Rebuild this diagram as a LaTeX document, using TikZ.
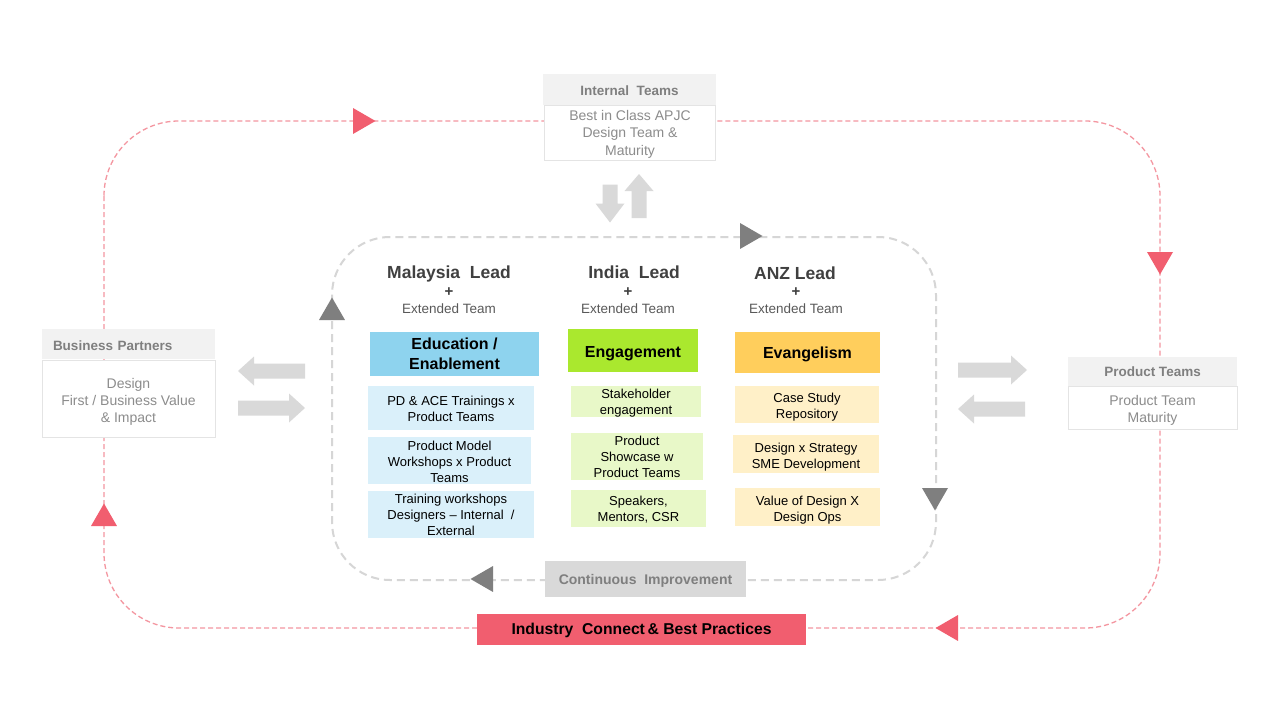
\documentclass[tikz,border=0pt]{standalone}
\usepackage{fontspec}
\setmainfont{Liberation Sans}
\usetikzlibrary{shapes.geometric}
\definecolor{pinkline}{RGB}{244,150,160}
\definecolor{pinkfill}{RGB}{241,94,111}
\definecolor{loopgray}{RGB}{214,214,214}
\definecolor{trigray}{RGB}{127,127,127}
\definecolor{hdrfill}{RGB}{242,242,242}
\definecolor{hdrtext}{RGB}{127,127,127}
\definecolor{bodytext}{RGB}{140,140,140}
\definecolor{boxborder}{RGB}{228,228,228}
\definecolor{fatgray}{RGB}{217,217,217}
\definecolor{leadtext}{RGB}{64,64,64}
\definecolor{exttext}{RGB}{89,89,89}
\definecolor{blueM}{RGB}{142,211,238}
\definecolor{blueL}{RGB}{218,240,250}
\definecolor{greenM}{RGB}{170,232,46}
\definecolor{greenL}{RGB}{232,248,200}
\definecolor{yellowM}{RGB}{255,206,92}
\definecolor{yellowL}{RGB}{255,240,200}
\definecolor{cigray}{RGB}{217,217,217}
% lower the text inside its box without changing the box
\newcommand{\lowtext}[2][2pt]{\raisebox{-#1}[\height][\depth]{\begin{tabular}{@{}c@{}}#2\end{tabular}}}
\tikzset{
  outerloop/.style={draw=pinkline, line width=1.3pt, dash pattern=on 5pt off 3pt, rounded corners=75pt},
  innerloop/.style={draw=loopgray, line width=2pt, dash pattern=on 8pt off 5pt, rounded corners=58pt},
  tri/.style={regular polygon, regular polygon sides=3, minimum size=30pt, inner sep=0pt},
  pinktri/.style={tri, fill=pinkfill},
  graytri/.style={tri, fill=trigray},
  hdr/.style={rectangle, fill=hdrfill, inner sep=0pt, text=hdrtext, font=\fontsize{13.5}{16}\selectfont\bfseries},
  sidebody/.style={rectangle, fill=white, draw=boxborder, line width=1pt, inner sep=0pt, text=bodytext, font=\fontsize{14}{17.2}\selectfont},
  mainbox/.style={rectangle, inner sep=0pt, text=black, font=\fontsize{16}{19.5}\selectfont\bfseries},
  subbox/.style={rectangle, inner sep=0pt, text=black, font=\fontsize{13}{15.8}\selectfont},
  leadtitle/.style={text=leadtext, inner sep=0pt, font=\fontsize{17.5}{20}\selectfont\bfseries},
  plussign/.style={text=leadtext, inner sep=0pt, font=\fontsize{15}{18}\selectfont\bfseries},
  exttitle/.style={text=exttext, inner sep=0pt, font=\fontsize{13.5}{16}\selectfont},
  pics/fatarrow/.style 2 args={code={
    \fill[fatgray] (-#1/2,-7.5) -- ({#1/2-#2},-7.5) -- ({#1/2-#2},-14.5) -- (#1/2,0)
      -- ({#1/2-#2},14.5) -- ({#1/2-#2},7.5) -- (-#1/2,7.5) -- cycle;}}
}
\begin{document}
\begin{tikzpicture}[x=1pt,y=-1pt]
\useasboundingbox (0,0) rectangle (1280,720);
\fill[white] (0,0) rectangle (1280,720);

% outer loop
\coordinate (oTL) at (104,121);
\coordinate (oBR) at (1160,628);
\draw[outerloop] (oTL) rectangle (oBR);

% inner loop
\coordinate (iTL) at (332,237);
\coordinate (iBR) at (936,580);
\draw[innerloop] (iTL) rectangle (iBR);

% pink direction triangles
\node[pinktri, shape border rotate=-90] (ptR) at (360.5,121) {};
\node[pinktri, shape border rotate=180] (ptD) at (1160,259.5) {};
\node[pinktri, shape border rotate=90] (ptL) at (950.5,628) {};
\node[pinktri] (ptU) at (104,518.5) {};

% gray direction triangles
\node[graytri, shape border rotate=-90] (gtR) at (747.5,236) {};
\node[graytri, shape border rotate=180] (gtD) at (935,495.5) {};
\node[graytri, shape border rotate=90] (gtL) at (485.5,579) {};
\node[graytri] (gtU) at (332,312.5) {};

% Internal Teams
\node[hdr, minimum width=173pt, minimum height=31pt] (intH) at (629.5,89.5) {\lowtext[3pt]{Internal\ \ Teams}};
\node[sidebody, minimum width=171pt, minimum height=55pt] (intB) at (630,132.5) {\lowtext{Best in Class APJC\\Design Team \&\\Maturity}};

% Business Partners
\node[hdr, minimum width=173pt, minimum height=30pt, text width=151pt, align=left, inner xsep=11pt] (bpH) at (128.5,344) {\raisebox{-1.5pt}[\height][\depth]{Business Partners}};
\node[sidebody, minimum width=173pt, minimum height=77pt] (bpB) at (128.5,398.5) {\lowtext[3.5pt]{Design\\First / Business Value\\\& Impact}};

% Product Teams
\node[hdr, minimum width=169pt, minimum height=29pt] (ptH) at (1152.5,371.5) {\lowtext[2pt]{Product Teams}};
\node[sidebody, minimum width=169pt, minimum height=43pt] (ptB) at (1152.5,407.5) {\lowtext[3pt]{Product Team\\Maturity}};

% block arrows
\pic (aDown) [rotate=-90] at (610,203.5) {fatarrow={38}{19}};
\pic (aUp) [rotate=90] at (639,196) {fatarrow={44}{17}};
\pic (aBPin) [rotate=180] at (271.5,371) {fatarrow={67}{16}};
\pic (aBPout) at (271.5,408) {fatarrow={67}{16}};
\pic (aPTin) at (992.5,370) {fatarrow={69}{16}};
\pic (aPTout) [rotate=180] at (991.5,409) {fatarrow={67}{16}};

% Continuous improvement / Industry connect
\node[rectangle, fill=cigray, text=hdrtext, inner sep=0pt, minimum width=201pt, minimum height=36pt, font=\fontsize{14}{16}\selectfont\bfseries] (ci) at (645.5,579) {\lowtext{Continuous\ \ Improvement}};
\node[rectangle, fill=pinkfill, text=black, inner sep=0pt, minimum width=329pt, minimum height=31pt, font=\fontsize{15.7}{18}\selectfont\bfseries] (ic) at (641.5,629.5) {\lowtext[1.5pt]{Industry\ \ Connect\,\& Best Practices}};

% lead titles
\node[leadtitle] (mlT) at (449,273.5) {Malaysia\ \ Lead};
\node[plussign] (mlP) at (449,292) {+};
\node[exttitle] (mlE) at (449,309) {Extended Team};
\node[leadtitle] (inT) at (634,272.5) {India\ \ Lead};
\node[plussign] (inP) at (628,292) {+};
\node[exttitle] (inE) at (628,309) {Extended Team};
\node[leadtitle] (anT) at (795,273.5) {ANZ Lead};
\node[plussign] (anP) at (796,292) {+};
\node[exttitle] (anE) at (796,309) {Extended Team};

% main boxes
\node[mainbox, fill=blueM, minimum width=169pt, minimum height=44pt] (edu) at (454.5,354) {\lowtext[1.5pt]{Education /\\Enablement}};
\node[mainbox, fill=greenM, minimum width=130pt, minimum height=43pt] (eng) at (633,350.5) {\lowtext[3pt]{Engagement}};
\node[mainbox, fill=yellowM, minimum width=145pt, minimum height=41pt] (eva) at (807.5,352.5) {\lowtext[2.5pt]{Evangelism}};

% Malaysia sub boxes
\node[subbox, fill=blueL, minimum width=166pt, minimum height=44pt] (m1) at (451,407.5) {\lowtext[3pt]{PD \& ACE Trainings x\\Product Teams}};
\node[subbox, fill=blueL, minimum width=163pt, minimum height=45pt] (m2) at (449.5,460.5) {\lowtext[3pt]{Product Model\\Workshops x Product\\Teams}};
\node[subbox, fill=blueL, minimum width=166pt, minimum height=45pt] (m3) at (451,514.5) {\lowtext{Training workshops\\Designers -- Internal\ \ /\\External}};

% India sub boxes
\node[subbox, fill=greenL, minimum width=130pt, minimum height=31pt] (i1) at (636,401.5) {\lowtext{Stakeholder\\engagement}};
\node[subbox, fill=greenL, minimum width=132pt, minimum height=41pt] (i2) at (637,456.5) {\lowtext{Product\\Showcase w\\Product Teams}};
\node[subbox, fill=greenL, minimum width=135pt, minimum height=37pt] (i3) at (638.5,508.5) {\lowtext{Speakers,\\Mentors, CSR}};

% ANZ sub boxes
\node[subbox, fill=yellowL, minimum width=144pt, minimum height=37pt] (a1) at (807,404.5) {\lowtext[3pt]{Case Study\\Repository}};
\node[subbox, fill=yellowL, minimum width=146pt, minimum height=38pt] (a2) at (806,454) {\lowtext[3pt]{Design x Strategy\\SME Development}};
\node[subbox, fill=yellowL, minimum width=145pt, minimum height=38pt] (a3) at (807.5,507) {\lowtext[3pt]{Value of Design X\\Design Ops}};
\end{tikzpicture}
\end{document}
